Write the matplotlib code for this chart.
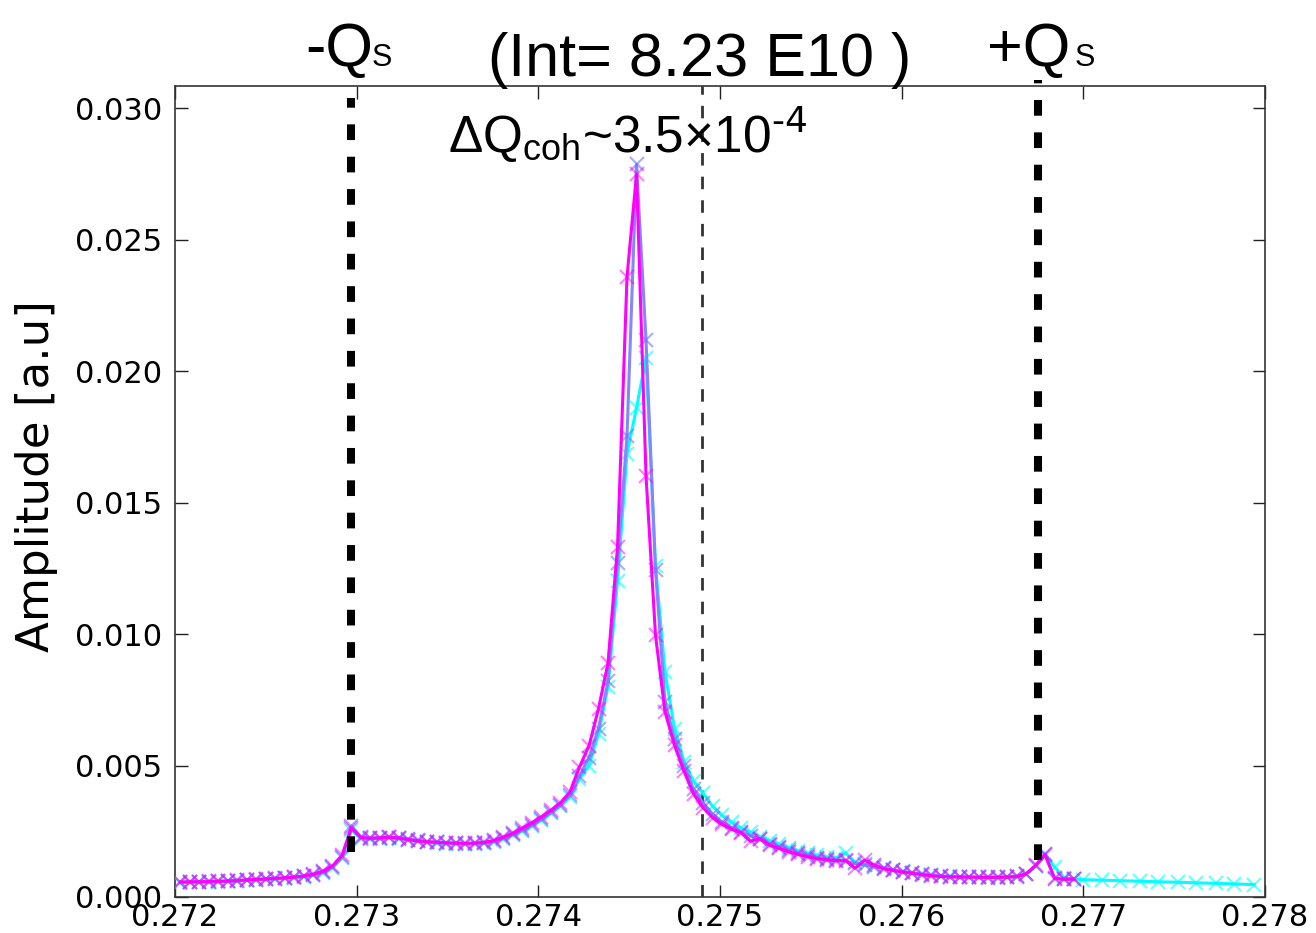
import numpy as np
import matplotlib
matplotlib.use("Agg")
import matplotlib.pyplot as plt
from matplotlib import font_manager

# ---------------- data ----------------
freq_start = 0.27203
freq_step = 0.0000523

amp_magenta = [
    0.00057, 0.00058, 0.00058, 0.00059, 0.00060, 0.00061, 0.00063, 0.00065, 0.00067, 0.00069,
    0.00071, 0.00073, 0.00076, 0.00080, 0.00087, 0.00098, 0.00118, 0.00158, 0.00262, 0.00226,
    0.00223, 0.00225, 0.00227, 0.00224, 0.00218, 0.00213, 0.00210, 0.00208, 0.00206, 0.00205,
    0.00204, 0.00205, 0.00208, 0.00215, 0.00228, 0.00243, 0.00262, 0.00283, 0.00305, 0.00330,
    0.00358, 0.00400, 0.00495, 0.00575, 0.00716, 0.00890, 0.01330, 0.02358, 0.02748, 0.01602,
    0.00995, 0.00704, 0.00577, 0.00478, 0.00392, 0.00340, 0.00302, 0.00276, 0.00258, 0.00245,
    0.00212, 0.00222, 0.00197, 0.00185, 0.00172, 0.00162, 0.00153, 0.00146, 0.00141, 0.00138,
    0.00139, 0.00109, 0.00140, 0.00122, 0.00108, 0.00101, 0.00095, 0.00090, 0.00085, 0.00081,
    0.00078, 0.00077, 0.00076, 0.00076, 0.00075, 0.00075, 0.00075, 0.00076, 0.00078, 0.00088,
    0.00120, 0.00160, 0.00071, 0.00068, 0.00068,
]

amp_blue = [
    0.00056, 0.00057, 0.00057, 0.00058, 0.00059, 0.00060, 0.00062, 0.00064, 0.00066, 0.00068,
    0.00070, 0.00072, 0.00075, 0.00079, 0.00085, 0.00095, 0.00114, 0.00152, 0.00270, 0.00228,
    0.00224, 0.00226, 0.00228, 0.00226, 0.00220, 0.00215, 0.00211, 0.00208, 0.00206, 0.00204,
    0.00203, 0.00204, 0.00206, 0.00212, 0.00224, 0.00238, 0.00255, 0.00274, 0.00296, 0.00322,
    0.00350, 0.00388, 0.00460, 0.00530, 0.00640, 0.00820, 0.01270, 0.01754, 0.02786, 0.02118,
    0.01242, 0.00742, 0.00600, 0.00500, 0.00410, 0.00358, 0.00315, 0.00285, 0.00263, 0.00247,
    0.00233, 0.00219, 0.00203, 0.00190, 0.00178, 0.00167, 0.00158, 0.00150, 0.00144, 0.00140,
    0.00136, 0.00128, 0.00122, 0.00115, 0.00109, 0.00102, 0.00096, 0.00091, 0.00086, 0.00082,
    0.00079, 0.00077, 0.00076, 0.00075, 0.00075, 0.00074, 0.00074, 0.00075, 0.00077, 0.00086,
    0.00118, 0.00165, 0.00070, 0.00067, 0.00067,
]

amp_cyan = [
    0.00055, 0.00056, 0.00056, 0.00057, 0.00058, 0.00059, 0.00061, 0.00063, 0.00065, 0.00067,
    0.00069, 0.00071, 0.00074, 0.00077, 0.00083, 0.00092, 0.00110, 0.00148, 0.00255, 0.00222,
    0.00220, 0.00222, 0.00224, 0.00222, 0.00217, 0.00212, 0.00208, 0.00205, 0.00203, 0.00202,
    0.00201, 0.00202, 0.00204, 0.00210, 0.00221, 0.00235, 0.00252, 0.00270, 0.00292, 0.00318,
    0.00345, 0.00380, 0.00450, 0.00500, 0.00620, 0.00800, 0.01200, 0.01686, 0.01860, 0.02050,
    0.01260, 0.00855, 0.00640, 0.00515, 0.00440, 0.00395, 0.00345, 0.00310, 0.00284, 0.00263,
    0.00246, 0.00230, 0.00214, 0.00200, 0.00188, 0.00176, 0.00166, 0.00158, 0.00152, 0.00148,
    0.00168, 0.00132, 0.00124, 0.00116, 0.00109, 0.00103, 0.00097, 0.00092, 0.00087, 0.00083,
    0.00080, 0.00078, 0.00077, 0.00076, 0.00076, 0.00075, 0.00075, 0.00076, 0.00078, 0.00087,
    0.00118, 0.00162, 0.00114, 0.00073, 0.00068, 0.00066,
]
freq_cyan_tail = [0.27710, 0.27720, 0.27731, 0.27741, 0.27752, 0.27762, 0.27773, 0.27783, 0.27794]
amp_cyan_tail = [0.00064, 0.00062, 0.00060, 0.00058, 0.00056, 0.00054, 0.00052, 0.00050, 0.00047]

qs_minus = 0.27297
qs_plus = 0.27675
q_coh = 0.27490

x_ticks = [0.272, 0.273, 0.274, 0.275, 0.276, 0.277, 0.278]
y_ticks = [0.000, 0.005, 0.010, 0.015, 0.020, 0.025, 0.030]
x_tick_labels = ["0.272", "0.273", "0.274", "0.275", "0.276", "0.277", "0.278"]
y_tick_labels = ["0.000", "0.005", "0.010", "0.015", "0.020", "0.025", "0.030"]

# ---------------- fonts ----------------
def has_font(name):
    try:
        font_manager.findfont(font_manager.FontProperties(family=name), fallback_to_default=False)
        return True
    except Exception:
        return False

narrow = has_font("Liberation Sans Narrow")
big_family = ["Liberation Sans Narrow", "Liberation Sans", "DejaVu Sans"] if narrow else ["Liberation Sans", "DejaVu Sans"]
big_size = 50 if narrow else 44
small_size = 25 if narrow else 22

plt.rcParams["font.family"] = ["DejaVu Sans"]
plt.rcParams["lines.scale_dashes"] = False
plt.rcParams["axes.unicode_minus"] = False

W, H = 1316, 933
fig = plt.figure(figsize=(W / 100, H / 100), dpi=100)
ax = fig.add_axes([175 / W, 1 - 897 / H, (1265 - 175) / W, (897 - 86) / H])

n_main = len(amp_magenta)
freq_main = freq_start + freq_step * np.arange(n_main)
freq_cyan = np.concatenate([freq_start + freq_step * np.arange(len(amp_cyan)), freq_cyan_tail])
amp_cyan_all = list(amp_cyan) + list(amp_cyan_tail)

ax.plot(freq_cyan, amp_cyan_all, color="#00ffff", lw=2.2, marker="x", ms=10.5, mew=1.5,
        mec=(0.0, 1.0, 1.0, 0.6), zorder=3)
ax.plot(freq_main, amp_blue, color="#8585ff", lw=2.2, marker="x", ms=10.5, mew=1.5,
        mec=(0.45, 0.45, 1.0, 0.6), zorder=4)
ax.plot(freq_main, amp_magenta, color="#ff00ff", lw=2.2, marker="x", ms=10.5, mew=1.5,
        mec=(1.0, 0.0, 1.0, 0.5), zorder=5)

trans = ax.get_xaxis_transform()
ax.plot([qs_minus, qs_minus], [0.0555, 0.985], transform=trans, color="black", lw=5.8,
        dashes=(11.3, 12), solid_capstyle="butt", dash_capstyle="butt", zorder=6, clip_on=False)
ax.plot([qs_plus, qs_plus], [0.0456, 1.008], transform=trans, color="black", lw=5.8,
        dashes=(11.3, 12), dash_capstyle="butt", zorder=6, clip_on=False)
ax.plot([q_coh, q_coh], [0.0, 1.0], transform=trans, color="#333333", lw=2.0,
        dashes=(9, 8), dash_capstyle="butt", zorder=2)

ax.set_xlim(0.272, 0.278)
ax.set_ylim(0.0, 0.03084)
ax.set_xticks(x_ticks)
ax.set_xticklabels(x_tick_labels)
ax.set_yticks(y_ticks)
ax.set_yticklabels(y_tick_labels)
ax.tick_params(axis="both", which="major", direction="in", length=9, width=1,
               labelsize=22, top=True, right=True, colors="#222222", labelcolor="black")
ax.tick_params(axis="x", pad=4)
ax.tick_params(axis="y", pad=9)
for sp in ax.spines.values():
    sp.set_linewidth(1.2)
    sp.set_color("#333333")

ax.set_ylabel("Amplitude [a.u]", fontsize=32.5)
ax.yaxis.set_label_coords(-0.107, 0.519)

# ---------------- annotations ----------------
def fx(px):
    return px / W

def fy(py):
    return 1 - py / H

fig.text(fx(305), fy(66), "-Q", fontsize=big_size, family=big_family, ha="left", va="baseline")
fig.text(fx(372), fy(66), "S", fontsize=small_size, family=big_family, ha="left", va="baseline")
fig.text(fx(700), fy(76), "(Int= 8.23 E10 )", fontsize=big_size, family=big_family, ha="center", va="baseline")
fig.text(fx(987), fy(66), "+Q", fontsize=big_size, family=big_family, ha="left", va="baseline")
fig.text(fx(1075), fy(66), "S", fontsize=small_size, family=big_family, ha="left", va="baseline")

fig.text(fx(448), fy(153), r"ΔQ$_\mathregular{coh}$~3.5×10$^\text{-4}$", fontsize=37,
         family=["Liberation Sans", "DejaVu Sans"], ha="left", va="baseline")

fig.savefig("out.png", dpi=100)
